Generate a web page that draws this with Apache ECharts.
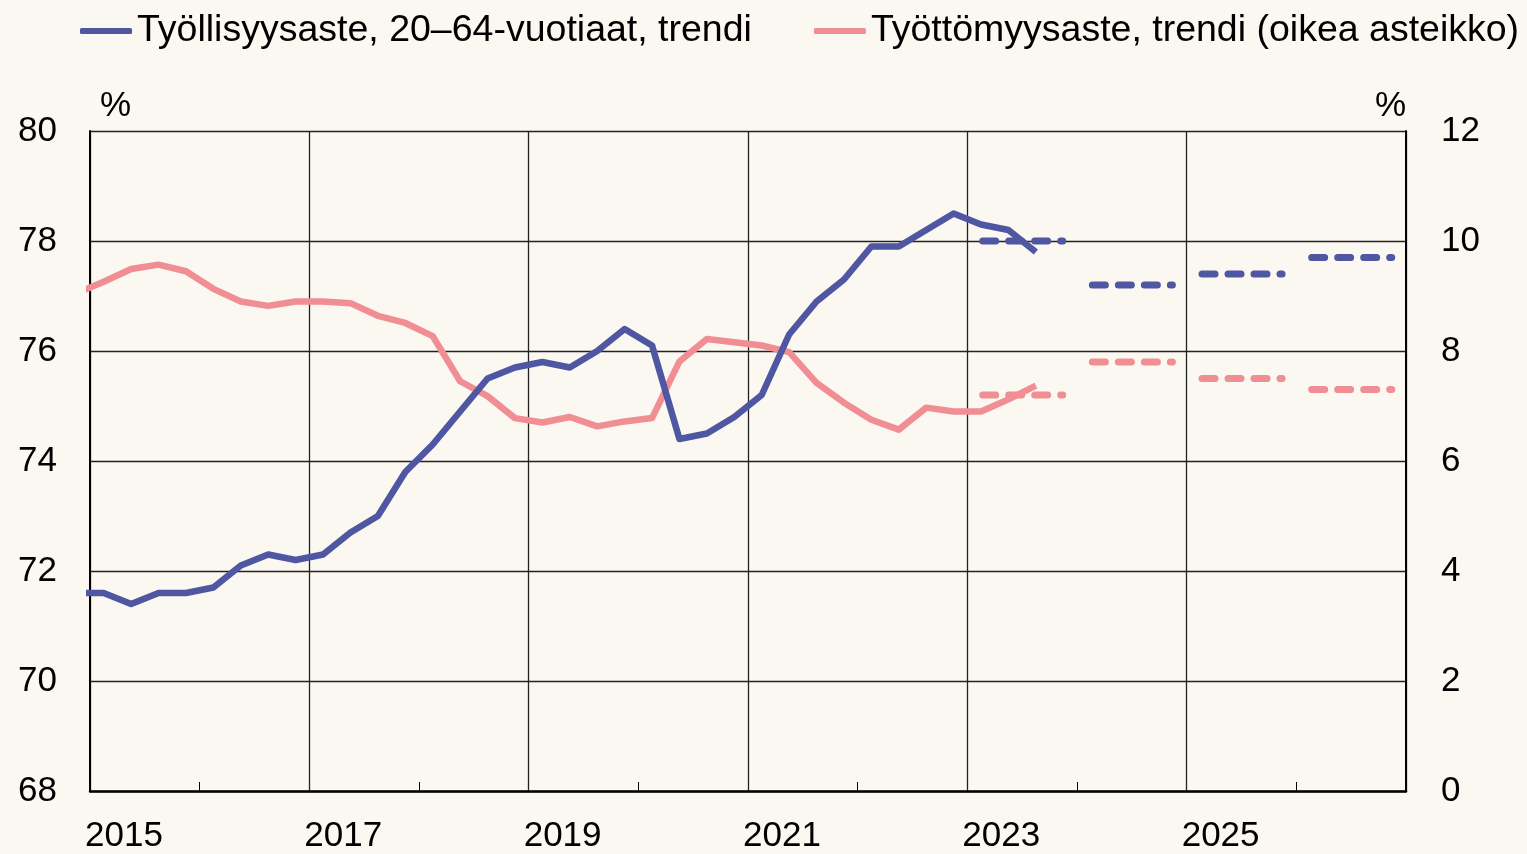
<!DOCTYPE html>
<html>
<head>
<meta charset="utf-8">
<title>Työllisyysaste ja työttömyysaste</title>
<script src="https://cdn.jsdelivr.net/npm/echarts@6.0.0/dist/echarts.min.js"></script>
<style>
  html, body {margin:0; padding:0; background:#fbf7f1;}
  #chartCover {width:1527px; height:854px;}
</style>
</head>
<body>
<div id="chartCover"></div>
<script>
  // quarters (first one is only partly visible, clipped at 2015)
  var quarters = ['2014Q4',
    '2015Q1','2015Q2','2015Q3','2015Q4','2016Q1','2016Q2','2016Q3','2016Q4',
    '2017Q1','2017Q2','2017Q3','2017Q4','2018Q1','2018Q2','2018Q3','2018Q4',
    '2019Q1','2019Q2','2019Q3','2019Q4','2020Q1','2020Q2','2020Q3','2020Q4',
    '2021Q1','2021Q2','2021Q3','2021Q4','2022Q1','2022Q2','2022Q3','2022Q4',
    '2023Q1','2023Q2','2023Q3'];
  // työllisyysaste 20-64, trendi (%)
  var employment = [71.6,
    71.6, 71.4, 71.6, 71.6, 71.7, 72.1, 72.3, 72.2,
    72.3, 72.7, 73.0, 73.8, 74.3, 74.9, 75.5, 75.7,
    75.8, 75.7, 76.0, 76.4, 76.1, 74.4, 74.5, 74.8,
    75.2, 76.3, 76.9, 77.3, 77.9, 77.9, 78.2, 78.5,
    78.3, 78.2, 77.8];
  // työttömyysaste, trendi (%), oikea asteikko
  var unemployment = [9.05,
    9.26, 9.49, 9.57, 9.45, 9.13, 8.90, 8.82, 8.90,
    8.90, 8.87, 8.64, 8.51, 8.27, 7.45, 7.18, 6.78,
    6.70, 6.80, 6.63, 6.72, 6.78, 7.81, 8.22, 8.16,
    8.10, 7.98, 7.42, 7.06, 6.75, 6.57, 6.97, 6.90,
    6.90, 7.12, 7.37];
  // ennusteet (vuosikeskiarvot)
  var forecastYears = [2023, 2024, 2025, 2026];
  var employmentForecast = [78.0, 77.2, 77.4, 77.7];
  var unemploymentForecast = [7.2, 7.8, 7.5, 7.3];

  var baseYear = 2015;
  var nameEmp = 'Työllisyysaste, 20–64-vuotiaat, trendi';
  var nameUnemp = 'Työttömyysaste, trendi (oikea asteikko)';
  var colorEmp = '#4f56a2';
  var colorUnemp = '#f08e94';
  var fontName = '"Liberation Sans", Arial, sans-serif';

  function quarterPos(q){
    var y = parseInt(q.substr(0,4));
    var n = parseInt(q.substr(5,1));
    return y - baseYear + (n - 1) / 4 + 0.125;
  }

  var empData = [], unempData = [];
  for (var i = 0; i < quarters.length; i++) {
    empData.push([quarterPos(quarters[i]), employment[i]]);
    unempData.push([quarterPos(quarters[i]), unemployment[i]]);
  }

  var series = [];
  series.push({
    name: nameUnemp, type: 'line', yAxisIndex: 1, data: unempData,
    symbol: 'none', color: colorUnemp, z: 3,
    lineStyle: {width: 6.5, color: colorUnemp, join: 'round'}
  });
  series.push({
    name: nameEmp, type: 'line', yAxisIndex: 0, data: empData,
    symbol: 'none', color: colorEmp, z: 4,
    lineStyle: {width: 6.5, color: colorEmp, join: 'round'}
  });
  forecastYears.forEach(function(yr, k){
    var x0 = yr - baseYear + 0.14, x1 = yr - baseYear + 0.87;
    series.push({
      name: 'ennuste_t' + yr, type: 'line', yAxisIndex: 0,
      data: [[x0, employmentForecast[k]], [x1, employmentForecast[k]]],
      symbol: 'none', silent: true, z: 2,
      lineStyle: {width: 7, color: colorEmp, type: [13, 13], cap: 'round'}
    });
    series.push({
      name: 'ennuste_u' + yr, type: 'line', yAxisIndex: 1,
      data: [[x0, unemploymentForecast[k]], [x1, unemploymentForecast[k]]],
      symbol: 'none', silent: true, z: 2,
      lineStyle: {width: 7, color: colorUnemp, type: [13, 13], cap: 'round'}
    });
  });

  var chartOption = {
    backgroundColor: '#fbf7f1',
    animation: false,
    textStyle: {fontFamily: fontName, color: '#000'},
    legend: {
      data: [nameEmp, nameUnemp],
      left: 80, top: 12, width: 1447,
      padding: 0,
      itemGap: 62,
      itemWidth: 52, itemHeight: 6,
      icon: 'roundRect',
      textStyle: {fontSize: 37.5, color: '#000', fontFamily: fontName}
    },
    grid: {left: 90, right: 121, top: 131, bottom: 62, containLabel: false},
    xAxis: {
      type: 'value', min: 0, max: 12, interval: 2,
      axisLine: {show: true, onZero: false, lineStyle: {color: '#000', width: 2.5}},
      axisTick: {show: false, inside: true},
      minorTick: {show: true, splitNumber: 2, length: 9, lineStyle: {color: '#000', width: 1}},
      splitLine: {show: true, lineStyle: {color: '#222', width: 1.3}},
      axisLabel: {
        fontSize: 35, color: '#000', align: 'left', margin: 28, padding: [0, 0, 0, -5],
        formatter: function(v){ return v < 12 ? String(baseYear + v) : ''; }
      }
    },
    yAxis: [
      {
        type: 'value', min: 68, max: 80, interval: 2,
        name: '%', nameLocation: 'end', nameGap: 7,
        nameTextStyle: {fontSize: 35, color: '#000', align: 'left', padding: [0, 0, 0, 10]},
        axisLine: {show: true, lineStyle: {color: '#000', width: 2}},
        axisTick: {show: false},
        splitLine: {show: true, lineStyle: {color: '#222', width: 1.3}},
        axisLabel: {fontSize: 35, color: '#000', margin: 33}
      },
      {
        type: 'value', min: 0, max: 12, interval: 2, position: 'right',
        name: '%', nameLocation: 'end', nameGap: 7,
        nameTextStyle: {fontSize: 35, color: '#000', align: 'right', padding: [0, 0, 0, 0]},
        axisLine: {show: true, lineStyle: {color: '#000', width: 2}},
        axisTick: {show: false},
        splitLine: {show: false},
        axisLabel: {fontSize: 35, color: '#000', margin: 35}
      }
    ],
    series: series
  };

  var myChart = echarts.init(document.getElementById('chartCover'));
  chartOption && myChart.setOption(chartOption, true);
</script>
</body>
</html>
